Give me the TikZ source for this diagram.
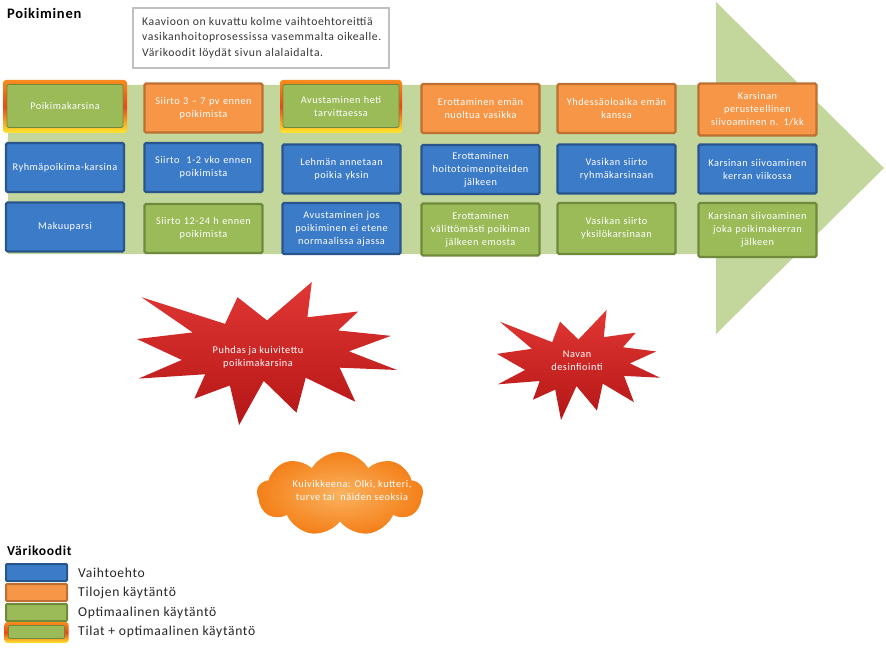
\documentclass[tikz,border=0pt]{standalone}
\usepackage{fontspec}
\setmainfont{Carlito}
\newfontfamily\wfont[LetterSpace=5]{Carlito}
\usetikzlibrary{shapes.symbols}
\definecolor{bfill}{RGB}{60,123,200}
\definecolor{bdraw}{RGB}{40,86,140}
\definecolor{ofill}{RGB}{247,150,70}
\definecolor{odraw}{RGB}{190,112,50}
\definecolor{gfill}{RGB}{155,187,89}
\definecolor{gdraw}{RGB}{112,138,60}
\definecolor{arrowc}{RGB}{195,214,155}
\definecolor{glowtop}{RGB}{247,140,30}
\definecolor{glowmid}{RGB}{236,70,20}
\definecolor{glowbot}{RGB}{255,232,50}
\definecolor{redtop}{RGB}{225,55,52}
\definecolor{redbot}{RGB}{180,22,22}
\definecolor{cloudin}{RGB}{250,178,95}
\definecolor{cloudout}{RGB}{244,128,25}
\definecolor{infogray}{RGB}{192,192,192}
\definecolor{infotext}{RGB}{55,55,55}
\tikzset{
 bx/.style={rectangle, rounded corners=1.5pt, line width=2.2pt, minimum width=118pt, minimum height=49pt,
   text width=116pt, align=center, text=white, font=\wfont\fontsize{10.3}{13}\selectfont, inner sep=0pt},
 bluebox/.style={bx, fill=bfill, draw=bdraw},
 orangebox/.style={bx, fill=ofill, draw=odraw},
 greenbox/.style={bx, fill=gfill, draw=gdraw},
 glow/.style={rectangle, rounded corners=3pt, top color=glowtop, bottom color=glowbot, middle color=glowmid, inner sep=0pt},
 innergreen/.style={bx, fill=gfill, draw=gdraw, line width=0.8pt, minimum width=113pt, minimum height=43pt},
 swatch/.style={rectangle, rounded corners=1pt, line width=2pt, minimum width=61pt, minimum height=17pt, inner sep=0pt},
 legtext/.style={anchor=west, inner sep=0pt, text=black!85, font=\wfont\fontsize{13.6}{15}\selectfont},
 burst/.style={top color=redtop, bottom color=redbot},
 bursttext/.style={align=center, text=white, inner sep=0pt, font=\wfont\fontsize{10.3}{13}\selectfont},
}
\newcommand{\seal}{(108,58) -- (145.22,0) -- (141.55,53.25) -- (183.8,44.57) -- (167.02,73.15) -- (210.97,81.37) -- (176.07,104.75) -- (216,132.9) -- (168.37,129.42) -- (181.45,180.95) -- (140.2,144.57) -- (132.47,197.37) -- (105.32,149.35) -- (84.85,216) -- (77.15,156.27) -- (47.62,176.17) -- (56.67,139.37) -- (1.35,145.87) -- (37.22,117.75) -- (0,86.15) -- (46.27,76.17) -- (3.7,22.95) -- (73.12,63.2) -- (83.52,22.95) -- cycle}
\begin{document}
\begin{tikzpicture}[x=1pt,y=-1pt]
\useasboundingbox (0,0) rectangle (886,650);
\fill[white] (0,0) rectangle (886,650);

% big arrow
\fill[arrowc] (8,85) -- (716,85) -- (716,2) -- (884,168) -- (716,334) -- (716,254) -- (8,254) -- cycle;

% title and info box
\node[anchor=west, inner sep=0pt, font=\wfont\bfseries\fontsize{14.5}{16}\selectfont] (title) at (7,13) {Poikiminen};
\node[draw=infogray, line width=2.5pt, fill=white, minimum width=256pt, minimum height=60pt, inner sep=0pt] (info) at (261,38) {};
\node[anchor=west, align=left, inner sep=0pt, text=infotext, font=\wfont\fontsize{11.7}{15.5}\selectfont] (infotxt) at (142,37.5)
 {Kaavioon on kuvattu kolme vaihtoehtoreittiä\\vasikanhoitoprosessissa vasemmalta oikealle.\\Värikoodit löydät sivun alalaidalta.};

% column 1
\node[glow, minimum width=124pt, minimum height=53pt] (c1g) at (65,106.5) {};
\node[innergreen] (c1a) at (65,106) {Poikimakarsina};
\node[bluebox] (c1b) at (65,167.5) {Ryhmäpoikima-karsina};
\node[bluebox] (c1c) at (65,227) {Makuuparsi};

% column 2
\node[orangebox] (c2a) at (203.5,108) {Siirto 3 – 7 pv ennen\\poikimista};
\node[bluebox] (c2b) at (203.5,167.5) {Siirto\ \ 1-2 vko ennen\\poikimista};
\node[greenbox] (c2c) at (203.5,228.5) {Siirto 12-24 h ennen\\poikimista};

% column 3
\node[glow, minimum width=122pt, minimum height=53pt] (c3g) at (341,106.5) {};
\node[innergreen] (c3a) at (341,106) {Avustaminen heti\\tarvittaessa};
\node[bluebox] (c3b) at (341.5,169) {Lehmän annetaan\\poikia yksin};
\node[bluebox, minimum height=51pt] (c3c) at (341.5,228.5) {Avustaminen jos\\poikiminen ei etene\\normaalissa ajassa};

% column 4
\node[orangebox] (c4a) at (480.5,108.5) {Erottaminen emän\\nuoltua vasikka};
\node[bluebox] (c4b) at (480.5,169.5) {Erottaminen\\hoitotoimenpiteiden\\jälkeen};
\node[greenbox, minimum height=52pt] (c4c) at (480.5,229.5) {Erottaminen\\välittömästi poikiman\\jälkeen emosta};

% column 5
\node[orangebox] (c5a) at (616.5,108.5) {Yhdessäoloaika emän\\kanssa};
\node[bluebox] (c5b) at (616.5,169) {Vasikan siirto\\ryhmäkarsinaan};
\node[greenbox, minimum height=51pt] (c5c) at (616.5,228.5) {Vasikan siirto\\yksilökarsinaan};

% column 6
\node[orangebox, minimum height=52pt] (c6a) at (757.5,109.5) {Karsinan\\perusteellinen\\siivoaminen n. 1/kk};
\node[bluebox] (c6b) at (757.5,169) {Karsinan siivoaminen\\kerran viikossa};
\node[greenbox, minimum height=54pt] (c6c) at (757.5,230) {Karsinan siivoaminen\\joka poikimakerran\\jälkeen};

% starbursts
\begin{scope}[shift={(137,282)}, xscale=1.2037, yscale=0.662]
\path[burst] \seal;
\end{scope}
\node[bursttext] (burst1) at (258,357) {Puhdas ja kuivitettu\\poikimakarsina};
\begin{scope}[shift={(497,310)}, xscale=0.7546, yscale=0.5093]
\path[burst] \seal;
\end{scope}
\node[bursttext] (burst2) at (577,361) {Navan\\desinfiointi};

% cloud
\node[cloud, cloud puffs=9, cloud puff arc=120, aspect=2.1, minimum width=166pt, minimum height=84pt,
  inner color=cloudin, outer color=cloudout, inner sep=0pt] (cloud) at (340,494) {};
\node[bursttext] (cloudtxt) at (352,490) {Kuivikkeena: Olki, kutteri,\\turve tai\ \ näiden seoksia};

% legend
\node[anchor=west, inner sep=0pt, font=\wfont\bfseries\fontsize{13.6}{15}\selectfont] (legtitle) at (7,551) {Värikoodit};
\node[swatch, fill=bfill, draw=bdraw] (sw1) at (36.5,572.5) {};
\node[swatch, fill=ofill, draw=odraw] (sw2) at (36.5,592.5) {};
\node[swatch, fill=gfill, draw=gdraw] (sw3) at (36.5,612.5) {};
\node[glow, minimum width=64pt, minimum height=21pt] (sw4g) at (36.5,632.5) {};
\node[swatch, fill=gfill, draw=gdraw, line width=0.6pt, minimum width=56pt, minimum height=13pt] (sw4) at (36.5,632) {};
\node[legtext] (l1) at (78,573) {Vaihtoehto};
\node[legtext] (l2) at (78,592.5) {Tilojen käytäntö};
\node[legtext] (l3) at (78,612.5) {Optimaalinen käytäntö};
\node[legtext] (l4) at (78,632) {Tilat + optimaalinen käytäntö};
\end{tikzpicture}
\end{document}
